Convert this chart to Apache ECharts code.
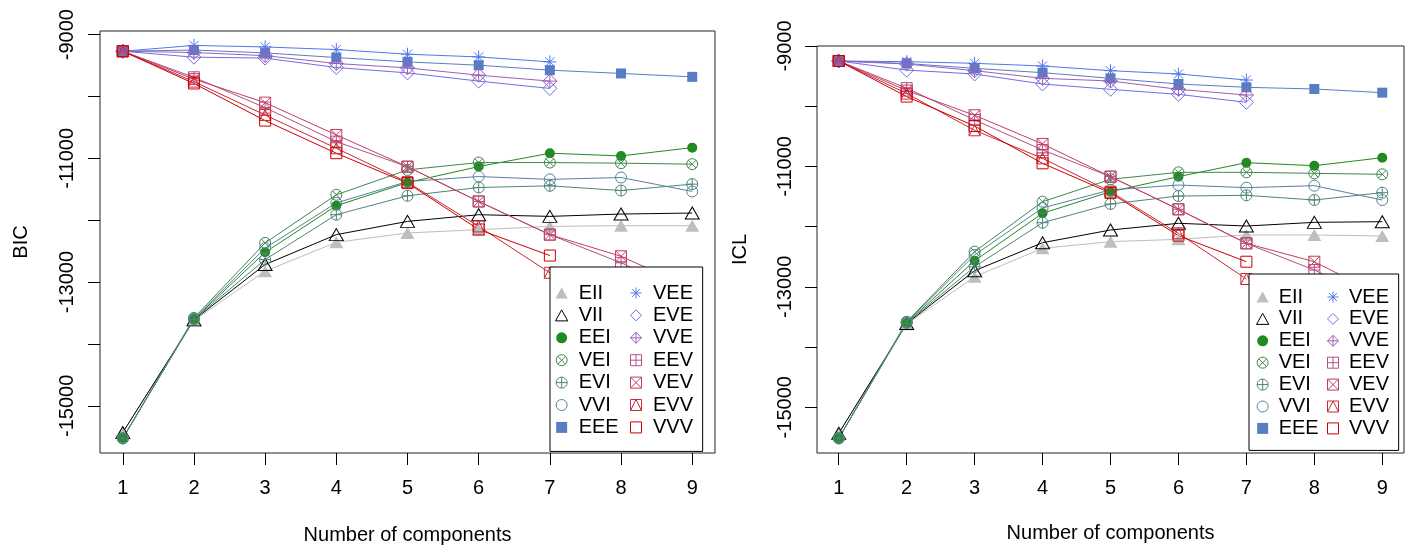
<!DOCTYPE html>
<html>
<head>
<meta charset="utf-8">
<script src="https://cdn.jsdelivr.net/npm/echarts@6/dist/echarts.min.js"></script>
<style>
  html, body { margin: 0; padding: 0; background: #fff; }
  #main { width: 1405px; height: 550px; }
</style>
</head>
<body>
<div id="main"></div>
<script>
// number of mixture components
var components = [1, 2, 3, 4, 5, 6, 7, 8, 9];
var models = ['EII', 'VII', 'EEI', 'VEI', 'EVI', 'VVI', 'EEE', 'VEE', 'EVE', 'VVE', 'EEV', 'VEV', 'EVV', 'VVV'];
var yTicks = [-15000, -14000, -13000, -12000, -11000, -10000, -9000];
var yLabels = [-15000, -13000, -11000, -9000];

// BIC values (left panel)
var bicEII = [-15430, -13620, -12824, -12357, -12206, -12153, -12100, -12088, -12088];
var bicVII = [-15430, -13610, -12716, -12233, -12019, -11911, -11938, -11900, -11884];
var bicEEI = [-15525, -13600, -12518, -11766, -11391, -11133, -10917, -10961, -10827];
var bicVEI = [-15525, -13580, -12367, -11589, -11186, -11068, -11068, -11078, -11094];
var bicEVI = [-15525, -13600, -12636, -11911, -11605, -11471, -11444, -11520, -11417];
var bicVVI = [-15525, -13590, -12450, -11720, -11375, -11294, -11340, -11310, -11535];
var bicEEE = [-9269, -9250, -9296, -9371, -9441, -9495, -9575, -9628, -9683];
var bicVEE = [-9269, -9175, -9200, -9242, -9317, -9361, -9441, null, null];
var bicEVE = [-9269, -9365, -9380, -9532, -9619, -9752, -9870, null, null];
var bicVVE = [-9269, -9290, -9340, -9467, -9538, -9656, -9752, null, null];
var bicEEV = [-9269, -9690, -10180, -10730, -11135, -11697, -12233, -12689, -13200];
var bicVEV = [-9269, -9720, -10100, -10622, -11135, -11697, -12233, -12583, -13100];
var bicEVV = [-9269, -9760, -10300, -10837, -11386, -12100, -12850, null, null];
var bicVVV = [-9269, -9790, -10390, -10917, -11400, -12150, -12571, null, null];

// ICL values (right panel)
var iclEII = [-15433, -13620, -12832, -12360, -12250, -12211, -12139, -12139, -12156];
var iclVII = [-15433, -13610, -12732, -12267, -12056, -11945, -11990, -11929, -11918];
var iclEEI = [-15516, -13600, -12566, -11779, -11420, -11170, -10938, -10988, -10855];
var iclVEI = [-15516, -13580, -12416, -11586, -11214, -11098, -11098, -11115, -11131];
var iclEVI = [-15516, -13600, -12666, -11935, -11624, -11492, -11480, -11558, -11436];
var iclVVI = [-15516, -13590, -12470, -11690, -11390, -11309, -11353, -11320, -11558];
var iclEEE = [-9249, -9290, -9371, -9443, -9537, -9631, -9686, -9714, -9775];
var iclVEE = [-9249, -9260, -9288, -9332, -9410, -9465, -9565, null, null];
var iclEVE = [-9249, -9400, -9465, -9631, -9720, -9803, -9935, null, null];
var iclVVE = [-9249, -9300, -9410, -9537, -9581, -9720, -9814, null, null];
var iclEEV = [-9249, -9700, -10229, -10727, -11170, -11713, -12278, -12721, -13250];
var iclVEV = [-9249, -9740, -10150, -10627, -11170, -11713, -12278, -12583, -13150];
var iclEVV = [-9249, -9790, -10400, -10866, -11420, -12111, -12870, null, null];
var iclVVV = [-9249, -9840, -10330, -10949, -11440, -12150, -12583, null, null];

var bic = {EII: bicEII, VII: bicVII, EEI: bicEEI, VEI: bicVEI, EVI: bicEVI, VVI: bicVVI, EEE: bicEEE,
           VEE: bicVEE, EVE: bicEVE, VVE: bicVVE, EEV: bicEEV, VEV: bicVEV, EVV: bicEVV, VVV: bicVVV};
var icl = {EII: iclEII, VII: iclVII, EEI: iclEEI, VEI: iclVEI, EVI: iclEVI, VVI: iclVVI, EEE: iclEEE,
           VEE: iclVEE, EVE: iclEVE, VVE: iclVVE, EEV: iclEEV, VEV: iclVEV, EVV: iclEVV, VVV: iclVVV};

// plotting symbols, like R's pch
var SYM = {
  tri: 'path://M10,1L19.5,18L0.5,18Z',
  circ: 'path://M1,10A9,9 0 1,1 19,10A9,9 0 1,1 1,10Z',
  circX: 'path://M1,10A9,9 0 1,1 19,10A9,9 0 1,1 1,10Z M3.64,3.64L16.36,16.36M16.36,3.64L3.64,16.36',
  circPlus: 'path://M1,10A9,9 0 1,1 19,10A9,9 0 1,1 1,10Z M10,1L10,19M1,10L19,10',
  sq: 'path://M1,1L19,1L19,19L1,19Z',
  star: 'path://M10,1L10,19M1,10L19,10M3.64,3.64L16.36,16.36M16.36,3.64L3.64,16.36',
  dia: 'path://M10,0L20,10L10,20L0,10Z',
  diaPlus: 'path://M10,0L20,10L10,20L0,10Z M10,0L10,20M0,10L20,10',
  sqPlus: 'path://M1,1L19,1L19,19L1,19Z M10,1L10,19M1,10L19,10',
  sqX: 'path://M1,1L19,1L19,19L1,19Z M1,1L19,19M19,1L1,19',
  sqTri: 'path://M1,1L19,1L19,19L1,19Z M1,19L10,1L19,19'
};

var style = {
  EII: {c: '#BEBEBE', s: SYM.tri, fill: true, size: [14, 12]},
  VII: {c: '#000000', s: SYM.tri, fill: false, size: [14, 12]},
  EEI: {c: '#218B21', s: SYM.circ, fill: true, size: 10},
  VEI: {c: '#41884F', s: SYM.circX, fill: false, size: 11},
  EVI: {c: '#508476', s: SYM.circPlus, fill: false, size: 11},
  VVI: {c: '#58819C', s: SYM.circ, fill: false, size: 11},
  EEE: {c: '#597DC3', s: SYM.sq, fill: true, size: 10},
  VEE: {c: '#5178EA', s: SYM.star, fill: false, size: 13},
  EVE: {c: '#716EE7', s: SYM.dia, fill: false, size: 14},
  VVE: {c: '#9B60B8', s: SYM.diaPlus, fill: false, size: 14},
  EEV: {c: '#B2508B', s: SYM.sqPlus, fill: false, size: 11},
  VEV: {c: '#C03F60', s: SYM.sqX, fill: false, size: 11},
  EVV: {c: '#C82A36', s: SYM.sqTri, fill: false, size: 11},
  VVV: {c: '#CC0000', s: SYM.sq, fill: false, size: 11}
};

var FONT = 'Liberation Sans, Arial, sans-serif';

function itemStyleOf(m) {
  var st = style[m];
  return {
    color: st.fill ? st.c : 'rgba(255,255,255,0)',
    borderColor: st.c,
    borderWidth: st.fill ? 0 : 1,
    opacity: 1
  };
}

function makeSeries(m, values, gi) {
  var st = style[m];
  var pts = [];
  components.forEach(function (k, i) {
    if (values[i] != null) pts.push([k, values[i]]);
  });
  return {
    name: m,
    type: 'line',
    xAxisIndex: gi,
    yAxisIndex: gi,
    data: pts,
    symbol: st.s,
    symbolSize: st.size,
    showAllSymbol: true,
    itemStyle: itemStyleOf(m),
    lineStyle: {color: st.c, width: 1},
    emphasis: {disabled: true},
    z: 2
  };
}

function legendItems(list) {
  return list.map(function (m) {
    return {
      name: m,
      icon: style[m].s,
      itemStyle: itemStyleOf(m),
      lineStyle: {color: style[m].c, width: 1}
    };
  });
}

function makeXAxis(gi, nameGap) {
  return {
    type: 'value', gridIndex: gi, min: 0.68, max: 9.32,
    axisLine: {show: false},
    splitLine: {show: false},
    axisTick: {show: true, customValues: components, length: 12, lineStyle: {color: '#000'}},
    axisLabel: {customValues: components, fontSize: 20, color: '#000', margin: 25, fontFamily: FONT},
    name: 'Number of components', nameLocation: 'middle', nameGap: nameGap,
    nameTextStyle: {fontSize: 20, color: '#000', fontFamily: FONT}
  };
}

function makeYAxis(gi, min, max, name, margin, nameGap) {
  return {
    type: 'value', gridIndex: gi, min: min, max: max,
    axisLine: {show: false},
    splitLine: {show: false},
    axisTick: {show: true, customValues: yTicks, length: 12, lineStyle: {color: '#000'}},
    axisLabel: {customValues: yLabels, rotate: 90, fontSize: 20, color: '#000', margin: margin,
                fontFamily: FONT, formatter: function (v) { return String(v); }},
    name: name, nameLocation: 'middle', nameGap: nameGap,
    nameTextStyle: {fontSize: 20, color: '#000', fontFamily: FONT}
  };
}

var col1 = ['EII', 'VII', 'EEI', 'VEI', 'EVI', 'VVI', 'EEE'];
var col2 = ['VEE', 'EVE', 'VVE', 'EEV', 'VEV', 'EVV', 'VVV'];

function makeLegend(list, left, top, itemW, gap, bg, padding, z) {
  return {
    data: legendItems(list),
    orient: 'vertical', left: left, top: top,
    itemWidth: itemW, itemHeight: 11, itemGap: gap,
    selectedMode: false,
    backgroundColor: bg ? '#fff' : 'transparent',
    borderColor: bg ? '#000' : 'transparent',
    borderWidth: bg ? 1 : 0,
    padding: padding,
    textStyle: {fontSize: 20, color: '#000', fontFamily: FONT, lineHeight: 20},
    z: z
  };
}

var series = [];
models.forEach(function (m) { series.push(makeSeries(m, bic[m], 0)); });
models.forEach(function (m) { series.push(makeSeries(m, icl[m], 1)); });

var chart = echarts.init(document.getElementById('main'));
chart.setOption({
  animation: false,
  backgroundColor: '#fff',
  grid: [
    {left: 100, top: 31, width: 615, height: 423, show: true, borderColor: '#222', borderWidth: 1, backgroundColor: 'transparent'},
    {left: 817, top: 46, width: 587, height: 407, show: true, borderColor: '#222', borderWidth: 1, backgroundColor: 'transparent'}
  ],
  xAxis: [makeXAxis(0, 72), makeXAxis(1, 70)],
  yAxis: [
    makeYAxis(0, -15762, -8942, 'BIC', 23, 69),
    makeYAxis(1, -15760, -9000, 'ICL', 22, 67)
  ],
  legend: [
    makeLegend(col1, 550, 267, 24, 2.4, true, [16, 84, 14, 5], 10),
    makeLegend(col2, 630, 283, 24, 2.4, false, 0, 11),
    makeLegend(col1, 1249, 274, 22, 1.9, true, [13, 80, 12, 7], 10),
    makeLegend(col2, 1327, 287, 22, 1.9, false, 0, 11)
  ],
  series: series
});
</script>
</body>
</html>
